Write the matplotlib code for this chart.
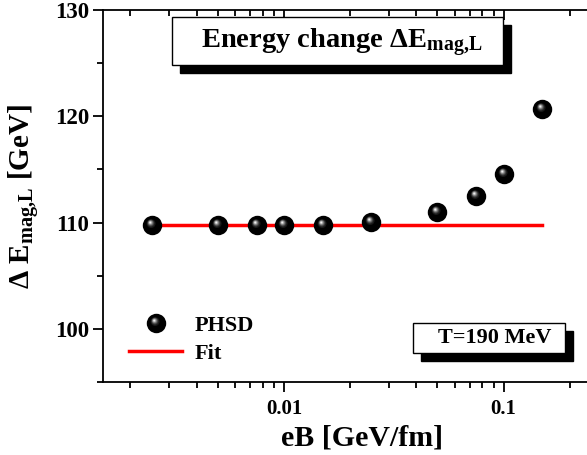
import numpy as np
import matplotlib
matplotlib.use("Agg")
import matplotlib.pyplot as plt
from matplotlib.path import Path
from matplotlib.patches import Rectangle
from matplotlib.legend_handler import HandlerTuple
from matplotlib.ticker import LogLocator, FixedLocator, NullFormatter

plt.rcParams["font.family"] = "Liberation Serif"
plt.rcParams["font.weight"] = "bold"
plt.rcParams["axes.labelweight"] = "bold"
plt.rcParams["mathtext.fontset"] = "custom"
plt.rcParams["mathtext.rm"] = "Liberation Serif:bold"
plt.rcParams["mathtext.it"] = "Liberation Serif:bold"
plt.rcParams["mathtext.bf"] = "Liberation Serif:bold"

# dati
eB = [0.0025, 0.005, 0.0075, 0.01, 0.015, 0.025, 0.05, 0.075, 0.1, 0.15]
dE = [109.8, 109.75, 109.75, 109.8, 109.8, 110.05, 110.95, 112.5, 114.6, 120.7]
fit_x = [0.0025, 0.15]
fit_y = [109.75, 109.75]


def spot(cx, cy, r):
    # cerchio spostato + punti fantasma per mantenere la scala del marker
    c = Path.circle((cx, cy), r)
    verts = np.vstack([[[1.0, 1.0]], [[-1.0, -1.0]], c.vertices])
    codes = np.concatenate([[Path.MOVETO, Path.MOVETO], c.codes])
    return Path(verts, codes)


# livelli della sfera lucida
layers = [("o", "black"),
          (spot(-0.14, 0.20, 0.46), "#181818"),
          (spot(-0.17, 0.24, 0.36), "#3a3a3a"),
          (spot(-0.19, 0.27, 0.28), "#666666"),
          (spot(-0.21, 0.29, 0.21), "#959595"),
          (spot(-0.22, 0.30, 0.14), "#c4c4c4"),
          (spot(-0.23, 0.31, 0.08), "#f0f0f0")]

W, H = 587, 455
fig = plt.figure(figsize=(W / 100, H / 100), dpi=100)
ax = fig.add_axes([103 / W, 73 / H, 488 / W, 372 / H])

fit_line, = ax.plot(fit_x, fit_y, color="red", lw=2.5, zorder=2)
ms = 14
handles = []
for m, c in layers:
    h, = ax.plot(eB, dE, ls="none", marker=m, ms=ms, color=c, mew=0, zorder=3)
    handles.append(h)

ax.set_xscale("log")
ax.set_xlim(0.0015, 0.25)
ax.set_ylim(95, 130)
ax.set_yticks([100, 110, 120, 130])
ax.yaxis.set_minor_locator(FixedLocator([95, 105, 115, 125]))
ax.xaxis.set_major_locator(FixedLocator([0.01, 0.1]))
ax.set_xticklabels(["0.01", "0.1"])
ax.xaxis.set_minor_locator(LogLocator(base=10, subs=np.arange(2, 10)))
ax.xaxis.set_minor_formatter(NullFormatter())

ax.spines["right"].set_visible(False)
for s in ["left", "bottom", "top"]:
    ax.spines[s].set_linewidth(1.3)
ax.tick_params(axis="both", which="both", direction="out", width=1.3)
ax.tick_params(axis="x", labelsize=15, pad=5)
ax.tick_params(axis="y", labelsize=16.5, pad=3)
ax.tick_params(axis="both", which="major", length=7)
ax.tick_params(axis="both", which="minor", length=4)
ax.tick_params(axis="x", which="both", top=True)
ax.tick_params(axis="y", which="both", right=False)

# tick interni in alto
for t in ax.xaxis.get_major_ticks() + ax.xaxis.get_minor_ticks():
    t.tick2line.set_marker(3)

ax.set_xlabel("eB [GeV/fm]", fontsize=21.5, labelpad=4, x=0.53)
ax.set_ylabel(r"$\Delta$ E$_{\mathregular{mag{,}L}}$ [GeV]", fontsize=21, labelpad=9)

ax.legend([tuple(handles), fit_line], ["PHSD", "Fit"],
          handler_map={tuple: HandlerTuple(ndivide=1, pad=0)},
          loc="lower left", bbox_to_anchor=(0.012, -0.005), frameon=False,
          fontsize=16, handlelength=2.4, handletextpad=0.55, labelspacing=0.33)


def px_box(x0, y0, x1, y1, off=8):
    # riquadro con ombra, coordinate in pixel dall'alto a sinistra
    def tr(x, y):
        return ax.transAxes.inverted().transform(fig.transFigure.transform((x / W, 1 - y / H)))
    a = tr(x0 + off, y1 + off)
    b = tr(x1 + off, y0 + off)
    ax.add_patch(Rectangle(a, b[0] - a[0], b[1] - a[1], transform=ax.transAxes,
                           fc="black", ec="black", lw=1, zorder=5, clip_on=False))
    a = tr(x0, y1)
    b = tr(x1, y0)
    ax.add_patch(Rectangle(a, b[0] - a[0], b[1] - a[1], transform=ax.transAxes,
                           fc="white", ec="black", lw=1, zorder=6, clip_on=False))
    return tr


tr = px_box(172, 17, 503, 65)
p = tr(201, 43)
ax.text(p[0], p[1], r"Energy change $\Delta$E$_{\mathregular{mag{,}L}}$", transform=ax.transAxes,
        ha="left", va="center", fontsize=20.5, zorder=7)
tr = px_box(413, 323, 565, 353)
p = tr(438, 338)
ax.text(p[0], p[1], "T=190 MeV", transform=ax.transAxes,
        ha="left", va="center", fontsize=16, zorder=7)

fig.savefig("out.png", dpi=100)
